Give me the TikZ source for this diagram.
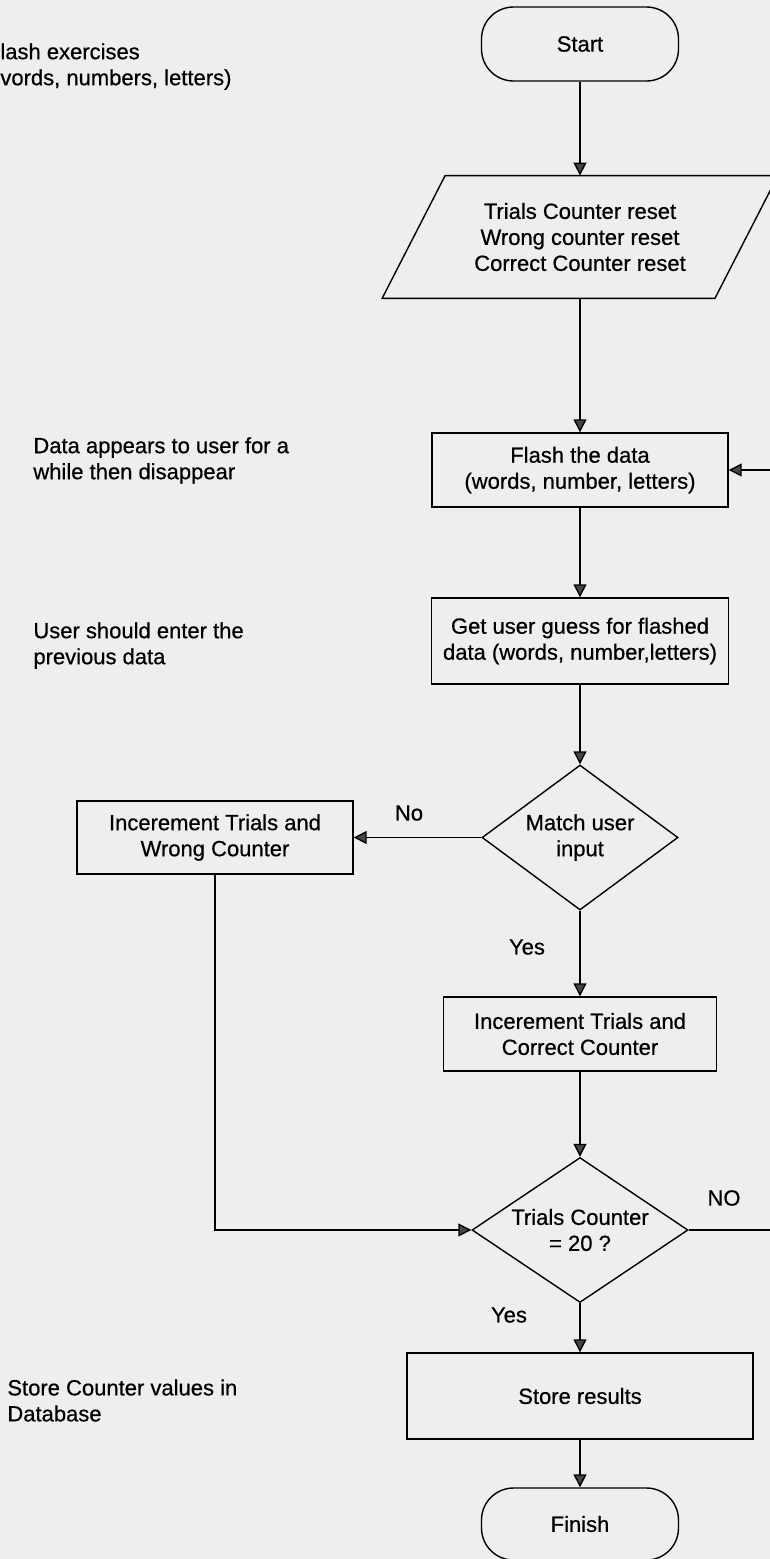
\documentclass[tikz,border=0pt]{standalone}
\usepackage{fontspec}
\setmainfont{Liberation Sans}
\newfontfamily\scanfont{Liberation Sans}[FakeBold=0.6]
\usepackage{tikz}
\usetikzlibrary{calc, arrows.meta, positioning, shapes.geometric}

\definecolor{paper}{RGB}{237,238,238}
\definecolor{tipgray}{RGB}{70,70,70}

\tikzset{
  txt/.style={font=\scanfont\fontsize{11}{13}\selectfont, align=center},
  note/.style={font=\scanfont\fontsize{11}{13}\selectfont, align=left, anchor=west, inner sep=0pt},
  box/.style={txt, draw, rectangle, line width=0.7pt},
  term/.style={txt, draw, rectangle, rounded corners=16pt, line width=0.7pt},
  decide/.style={txt, draw, diamond, inner sep=0pt, line width=0.7pt},
  link/.style={line width=0.7pt},
  arr/.style={line width=0.7pt, -{Triangle[length=6.5pt,width=6.5pt,fill=tipgray]}},
}

\begin{document}
\begin{tikzpicture}[x=0.5pt, y=-0.5pt]

% paper
\fill[paper] (0,0) rectangle (770,1559);
\useasboundingbox (0,0) rectangle (770,1559);

% Draw the main column
\node[term, minimum width=98.5pt, minimum height=37pt] (start) at (580,44) {Start};
\node[txt, minimum width=166pt, minimum height=61pt] (reset) at (580,237) {Trials Counter reset\\Wrong counter reset\\Correct Counter reset};
\draw[link] ($(reset.south west)+(-31.5,0)$) -- ($(reset.north west)+(31.5,0)$)
  -- ($(reset.north east)+(31.5,0)$) -- ($(reset.south east)+(-31.5,0)$) -- cycle;
\node[box, minimum width=148pt, minimum height=37pt] (flash) at (580,470) {Flash the data\\(words, number, letters)};
\node[box, minimum width=148.5pt, minimum height=43pt] (guess) at (580,641) {Get user guess for flashed\\data (words, number,letters)};
\node[decide, minimum width=98pt, minimum height=72.5pt, aspect=1.35] (match) at (580,837.5) {Match user\\input};
\node[box, minimum width=136.5pt, minimum height=37pt] (correct) at (580,1034) {Incerement Trials and\\Correct Counter};
\node[decide, minimum width=108pt, minimum height=72.5pt, aspect=1.49] (check) at (580,1230) {Trials Counter\\= 20 ?};
\node[box, minimum width=173pt, minimum height=43pt] (store) at (580,1396) {Store results};
\node[term, minimum width=98.5pt, minimum height=36pt] (finish) at (580,1524) {Finish};

% Wrong branch
\node[box, minimum width=138pt, minimum height=36.5pt] (wrong) at (215,837.5) {Incerement Trials and\\Wrong Counter};

% Add the branch labels
\node[txt] (no) at (409,813) {No};
\node[txt] (yesmatch) at (527,947) {Yes};
\node[txt] (nocheck) at (724,1198) {NO};
\node[txt] (yescheck) at (509,1315) {Yes};

% Notes on the left
\node[note] (noteflash) at (0,66.5) {lash exercises\\vords, numbers, letters)};
\node[note] (noteshow) at (33,460.5) {Data appears to user for a\\while then disappear};
\node[note] (noteenter) at (33,645.5) {User should enter the\\previous data};
\node[note] (notestore) at (7,1400.5) {Store Counter values in\\Database};

% Draw the connectors
\draw[arr] (start) -- (reset);
\draw[arr] (reset) -- (flash);
\draw[arr] (flash) -- (guess);
\draw[arr] (guess) -- (match);
\draw[arr] (match) -- (wrong);
\draw[arr] (match) -- (correct);
\draw[arr] (correct) -- (check);
\draw[arr] (check) -- (store);
\draw[arr] (store) -- (finish);
\draw[arr] (wrong.south) |- (check.west);
\coordinate (loop) at (790,0);
\draw[arr] (check.east) -- (check.east -| loop) |- (flash.east);

\end{tikzpicture}
\end{document}
